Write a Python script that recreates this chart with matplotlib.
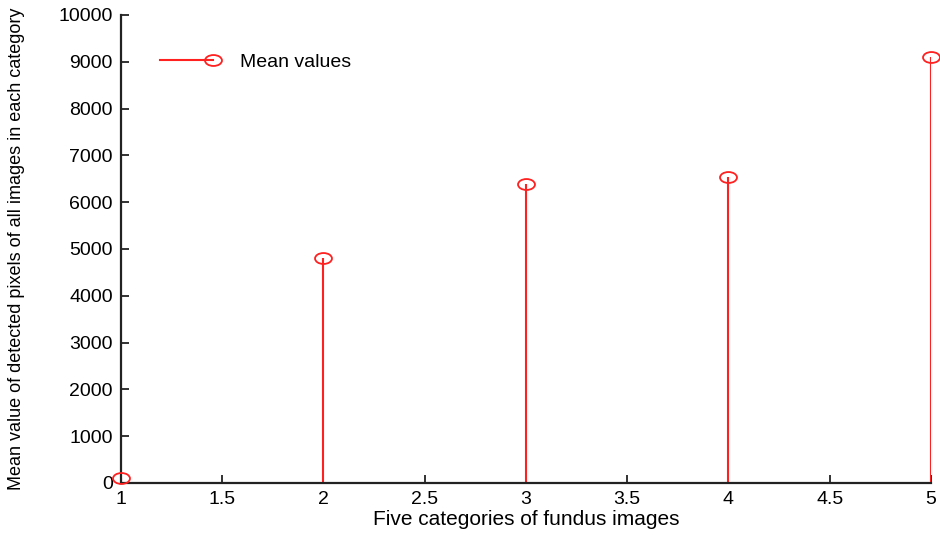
import numpy as np
import matplotlib
matplotlib.use("Agg")
import matplotlib.pyplot as plt
from matplotlib.path import Path
from matplotlib.transforms import Affine2D
from matplotlib.lines import Line2D
from matplotlib.legend_handler import HandlerBase

# Data
categories = [1, 2, 3, 4, 5]
mean_values = [100, 4800, 6390, 6540, 9100]
x_ticks = [1, 1.5, 2, 2.5, 3, 3.5, 4, 4.5, 5]
x_tick_labels = ["1", "1.5", "2", "2.5", "3", "3.5", "4", "4.5", "5"]
y_ticks = [0, 1000, 2000, 3000, 4000, 5000, 6000, 7000, 8000, 9000, 10000]

RED = '#ff2020'
plt.rcParams['font.family'] = ['Liberation Sans', 'DejaVu Sans']

fig = plt.figure(figsize=(9.4, 5.35), dpi=100)
ax = fig.add_axes([0.1287, 0.0972, 0.8617, 0.8748])

# wide open ellipse marker
ellipse = Path.unit_circle().transformed(Affine2D().scale(1.55, 1.0))
marker_kw = dict(marker=ellipse, markersize=12.2, markerfacecolor='none',
                 markeredgecolor=RED, markeredgewidth=1.3)

markerline, stemlines, baseline = ax.stem(categories, mean_values, basefmt=' ')
plt.setp(stemlines, color=RED, linewidth=1.5)
plt.setp(markerline, color=RED, clip_on=False, zorder=5, **marker_kw)

ax.set_xlim(1, 5)
ax.set_ylim(0, 10000)
ax.set_xticks(x_ticks)
ax.set_xticklabels(x_tick_labels)
ax.set_yticks(y_ticks)

for s in ['top', 'right']:
    ax.spines[s].set_visible(False)
for s in ['left', 'bottom']:
    ax.spines[s].set_linewidth(1.6)
    ax.spines[s].set_color('#222222')
ax.tick_params(direction='in', length=6, width=1.3, labelsize=14, colors='#222222',
               labelcolor='black')
ax.tick_params(axis='x', pad=6)
ax.tick_params(axis='y', pad=6)

ax.set_xlabel('Five categories of fundus images', fontsize=15, labelpad=1)
ax.set_ylabel('Mean value of detected pixels of all images in each category',
              fontsize=13)
ax.yaxis.set_label_coords(-0.118, 0.5)


class StemLegendHandler(HandlerBase):
    """Horizontal line with the marker sitting at its right end."""
    def create_artists(self, legend, orig_handle, xdescent, ydescent,
                       width, height, fontsize, trans):
        y = height / 2 - ydescent
        x0, x1 = -xdescent, width - xdescent
        line = Line2D([x0, x1], [y, y], color=RED, linewidth=1.5)
        mark = Line2D([x1], [y], linestyle='none', **marker_kw)
        line.set_transform(trans)
        mark.set_transform(trans)
        return [line, mark]


proxy = Line2D([], [], color=RED)
leg = ax.legend([proxy], ['Mean values'], handler_map={Line2D: StemLegendHandler()},
                loc='upper left', frameon=False, fontsize=14,
                bbox_to_anchor=(0.027, 0.955), handlelength=2.7, handletextpad=1.4)

fig.savefig('out.png', dpi=100)
